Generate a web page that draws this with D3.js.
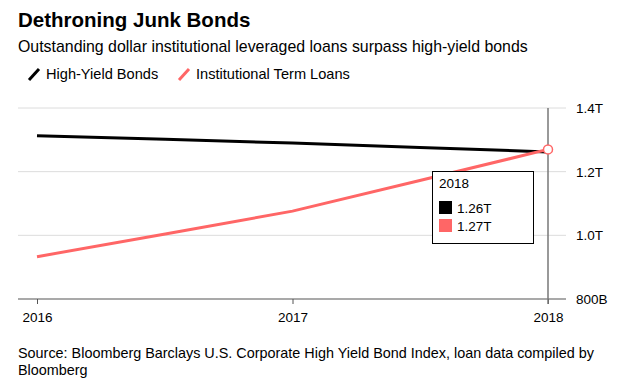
<!DOCTYPE html>
<html>
<head>
<meta charset="utf-8">
<script src="https://cdn.jsdelivr.net/npm/d3@7"></script>
<style>
    body { margin: 0; background: #fff; }
    svg { font-family: "Liberation Sans", Arial, sans-serif; }
</style>
</head>
<body>
<svg id="chart" width="621" height="388"></svg>
<script>
// values (trillions of dollars)
var years = [2016, 2017, 2018];
var highYield = [1.313, 1.29, 1.262];
var termLoans = [0.933, 1.076, 1.27];
var yTicks = [0.8, 1.0, 1.2, 1.4];
var yTickLabels = ['800B', '1.0T', '1.2T', '1.4T'];
var seriesNames = ['High-Yield Bonds', 'Institutional Term Loans'];
var seriesColors = ['#000000', '#ff6666'];
var tipLabels = ['1.26T', '1.27T'];

var svg = d3.select('#chart');

var x = d3.scaleLinear().domain([2016, 2018]).range([37, 548]);
var y = d3.scaleLinear().domain([0.8, 1.4]).range([299, 108]);

// headings
svg.append('text')
    .attr('x', 18).attr('y', 27)
    .style('font-size', '20.5px').style('font-weight', 'bold')
    .text('Dethroning Junk Bonds');

svg.append('text')
    .attr('x', 18).attr('y', 52)
    .style('font-size', '15.9px')
    .text('Outstanding dollar institutional leveraged loans surpass high-yield bonds');

// legend
var legendX = [29, 179];
seriesNames.forEach(function(name, i) {
    var lx = legendX[i];
    svg.append('line')
        .attr('x1', lx).attr('y1', 80)
        .attr('x2', lx + 10).attr('y2', 69)
        .attr('stroke', seriesColors[i])
        .attr('stroke-width', 3);
    svg.append('text')
        .attr('x', lx + 17).attr('y', 79)
        .style('font-size', '14.6px')
        .text(name);
});

// gridlines + y labels
var grid = svg.append('g');
yTicks.forEach(function(t, i) {
    grid.append('line')
        .attr('x1', 18).attr('x2', 566)
        .attr('y1', y(t)).attr('y2', y(t))
        .attr('stroke', i === 0 ? '#555' : '#dcdcdc')
        .attr('stroke-width', i === 0 ? 1.2 : 1);
    grid.append('text')
        .attr('x', 576).attr('y', y(t) + 5)
        .style('font-size', '13.5px')
        .text(yTickLabels[i]);
});

// x axis ticks + labels
var xAxis = svg.append('g')
    .attr('transform', 'translate(0,' + y(0.8) + ')')
    .call(d3.axisBottom(x).tickValues(years).tickFormat(d3.format('d')).tickSize(5).tickSizeOuter(0));
xAxis.select('.domain').remove();
xAxis.selectAll('line').attr('stroke', '#555');
xAxis.selectAll('text')
    .attr('y', 13)
    .style('font-size', '13.5px')
    .style('font-family', '"Liberation Sans", Arial, sans-serif')
    .attr('fill', '#000');

// hover cursor line
svg.append('line')
    .attr('x1', x(2018)).attr('x2', x(2018))
    .attr('y1', y(1.4)).attr('y2', y(0.8) + 5)
    .attr('stroke', '#777')
    .attr('stroke-width', 1.5);

// lines
var line = d3.line()
    .x(function(d, i) { return x(years[i]); })
    .y(function(d) { return y(d); })
    .curve(d3.curveCardinal.tension(0.8));

[highYield, termLoans].forEach(function(vals, i) {
    svg.append('path')
        .datum(vals)
        .attr('d', line)
        .attr('fill', 'none')
        .attr('stroke', seriesColors[i])
        .attr('stroke-width', 3);
});

// hover marker
svg.append('circle')
    .attr('cx', x(2018)).attr('cy', y(termLoans[2]))
    .attr('r', 4.5)
    .attr('fill', '#fff')
    .attr('stroke', '#ff6666')
    .attr('stroke-width', 1.5);

// tooltip
var tip = svg.append('g').attr('transform', 'translate(432,171)');
tip.append('rect')
    .attr('x', 0.5).attr('y', 0.5)
    .attr('width', 101).attr('height', 72)
    .attr('fill', '#fff')
    .attr('stroke', '#000')
    .attr('stroke-width', 1);
tip.append('text')
    .attr('x', 7).attr('y', 17)
    .style('font-size', '13.5px')
    .text('2018');
tipLabels.forEach(function(lbl, i) {
    tip.append('rect')
        .attr('x', 7).attr('y', 30 + i * 18)
        .attr('width', 13).attr('height', 13)
        .attr('fill', seriesColors[i]);
    tip.append('text')
        .attr('x', 25).attr('y', 42 + i * 18)
        .style('font-size', '13.5px')
        .text(lbl);
});

// source
var src = svg.append('text')
    .attr('x', 18).attr('y', 358)
    .style('font-size', '14.4px');
src.append('tspan').attr('x', 18)
    .text('Source: Bloomberg Barclays U.S. Corporate High Yield Bond Index, loan data compiled by');
src.append('tspan').attr('x', 18).attr('dy', 17)
    .text('Bloomberg');
</script>
</body>
</html>
